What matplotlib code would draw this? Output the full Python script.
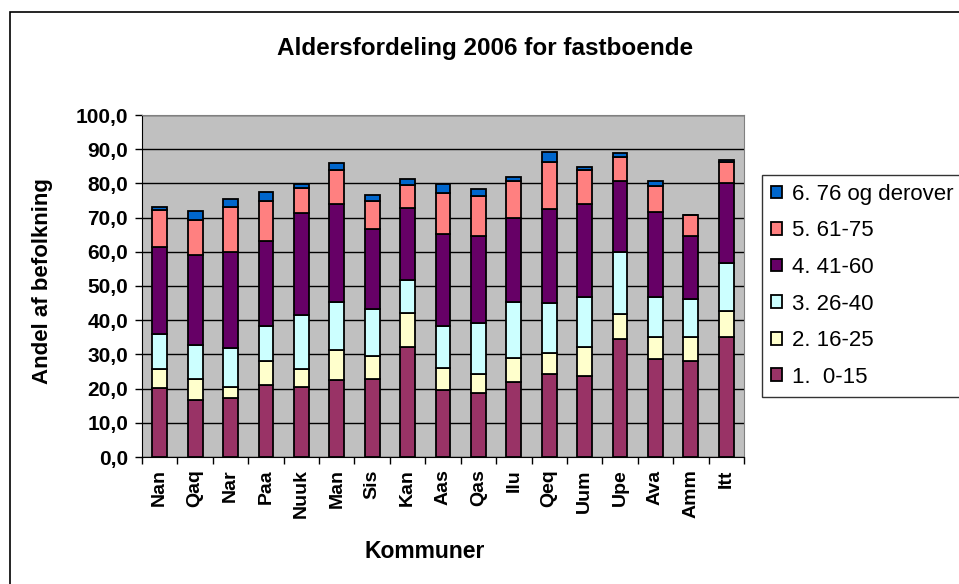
import numpy as np
import matplotlib
matplotlib.use("Agg")
from matplotlib import pyplot as plt
from matplotlib.patches import Rectangle

plt.rcParams['font.family'] = ['Liberation Sans', 'DejaVu Sans']

kommuner = ['Nan', 'Qaq', 'Nar', 'Paa', 'Nuuk', 'Man', 'Sis', 'Kan', 'Aas',
            'Qas', 'Ilu', 'Qeq', 'Uum', 'Upe', 'Ava', 'Amm', 'Itt']

# andel (%) per aldersgruppe
age_0_15 = [20.1, 16.8, 17.3, 21.0, 20.6, 22.4, 22.8, 32.2, 19.6,
            18.7, 21.9, 24.2, 23.8, 34.5, 28.6, 28.0, 35.0]
age_16_25 = [5.7, 6.0, 3.3, 7.0, 5.2, 8.9, 6.7, 9.9, 6.5,
             5.6, 7.1, 6.1, 8.4, 7.2, 6.4, 7.1, 7.6]
age_26_40 = [10.1, 9.9, 11.2, 10.2, 15.8, 14.1, 13.9, 9.8, 12.1,
             15.0, 16.4, 14.7, 14.5, 18.1, 11.7, 11.1, 14.1]
age_41_60 = [25.6, 26.3, 28.1, 25.0, 29.6, 28.6, 23.2, 20.8, 26.9,
             25.4, 24.5, 27.6, 27.3, 20.9, 24.9, 18.5, 23.5]
age_61_75 = [10.6, 10.3, 13.2, 11.7, 7.4, 9.9, 8.4, 6.9, 12.2,
             11.6, 10.8, 13.6, 10.0, 7.0, 7.6, 6.1, 6.0]
age_76_up = [1.1, 2.5, 2.4, 2.5, 1.2, 2.0, 1.5, 1.6, 2.4,
             2.0, 1.3, 2.9, 0.9, 1.1, 1.5, 0.0, 0.6]

series = [age_0_15, age_16_25, age_26_40, age_41_60, age_61_75, age_76_up]
labels = ['1.  0-15', '2. 16-25', '3. 26-40', '4. 41-60', '5. 61-75', '6. 76 og derover']
colors = ['#993366', '#FFFFCC', '#CCFFFF', '#660066', '#FF8080', '#0066CC']

W, H = 959, 584
fig = plt.figure(figsize=(W / 100, H / 100), dpi=100)
ax = fig.add_axes([142 / W, 1 - 457 / H, (744 - 142) / W, (457 - 115) / H])
ax.set_facecolor('#C0C0C0')

x = np.arange(len(kommuner))
bottom = np.zeros(len(kommuner))
handles = []
for vals, lab, col in zip(series, labels, colors):
    vals = np.array(vals)
    b = ax.bar(x, vals, 0.42, bottom=bottom, color=col, edgecolor='black',
               linewidth=1.3, label=lab, zorder=3)
    handles.append(b)
    bottom += vals

ax.set_xlim(-0.5, len(kommuner) - 0.5)
ax.set_ylim(0, 100)
ax.set_yticks(np.arange(0, 101, 10))
ax.set_yticklabels([f'{v:.1f}'.replace('.', ',') for v in range(0, 101, 10)],
                   fontsize=15, fontweight='bold')
ax.yaxis.grid(True, color='black', linewidth=1)
ax.set_axisbelow(True)

ax.set_xticks(x)
ax.set_xticklabels(kommuner, rotation=90, fontsize=14, fontweight='bold')
ax.set_xticks(np.arange(-0.5, len(kommuner)), minor=True)
ax.tick_params(axis='x', which='major', length=0, pad=9)
ax.tick_params(axis='x', which='minor', length=5, width=1, direction='out')
ax.tick_params(axis='y', length=5, width=1, pad=5)

for s in ['top', 'right']:
    ax.spines[s].set_color('#808080')
for s in ['left', 'bottom']:
    ax.spines[s].set_color('black')

fig.text(485 / W, 1 - 48 / H, 'Aldersfordeling 2006 for fastboende',
         ha='center', va='center', fontsize=17.5, fontweight='bold')
fig.text(43 / W, 1 - 281 / H, 'Andel af befolkning', rotation=90,
         ha='center', va='center', fontsize=16, fontweight='bold')
fig.text(425 / W, 1 - 551 / H, 'Kommuner', ha='center', va='center',
         fontsize=16.5, fontweight='bold')

leg = fig.legend(handles[::-1], labels[::-1], loc='upper left',
                 bbox_to_anchor=(762 / W, 1 - 175 / H), fontsize=16,
                 frameon=True, fancybox=False, edgecolor='black',
                 handlelength=0.5, handleheight=0.5, handletextpad=0.45,
                 labelspacing=0.7, borderpad=0.4, borderaxespad=0)
leg.get_frame().set_linewidth(1)

# chart border (runs off the right and bottom edges)
fig.add_artist(Rectangle((10 / W, -0.1), 1.2, 1.1 - 12 / H, fill=False,
                         edgecolor='black', linewidth=1.2,
                         transform=fig.transFigure, clip_on=False))

fig.savefig('out.png', dpi=100)
